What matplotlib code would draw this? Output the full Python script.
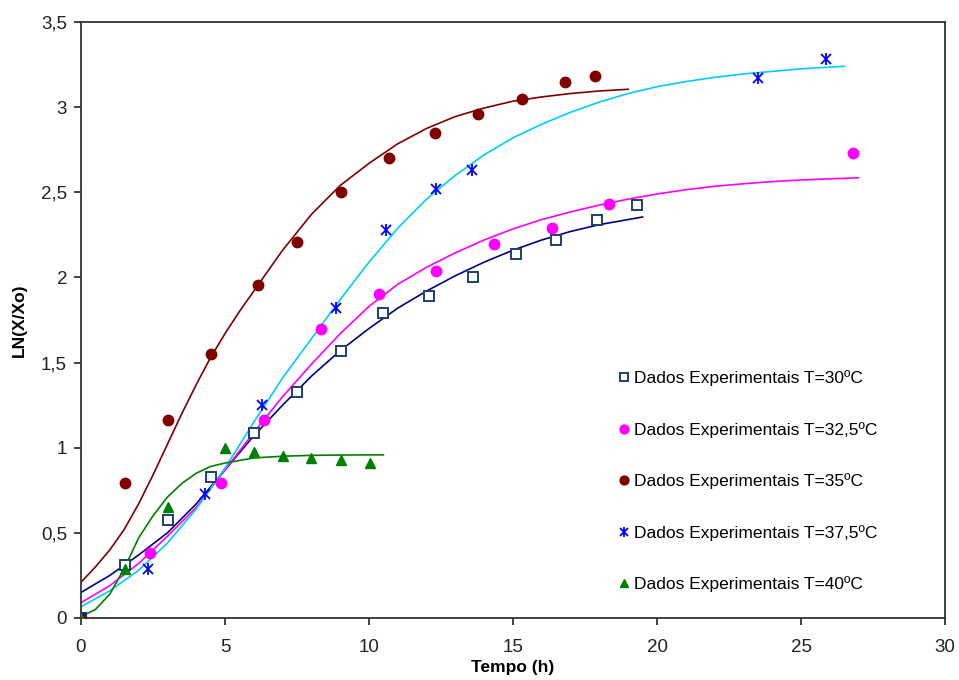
import matplotlib
matplotlib.use("Agg")
import matplotlib.pyplot as plt
from matplotlib.legend_handler import HandlerTuple

plt.rcParams['font.family'] = ['Liberation Sans', 'DejaVu Sans']

# ---- experimental data ----
t30 = [0, 1.53, 3.02, 4.51, 6.0, 7.5, 9.03, 10.5, 12.08, 13.6, 15.1, 16.5, 17.9, 19.3]
y30 = [0, 0.31, 0.575, 0.83, 1.085, 1.33, 1.57, 1.79, 1.89, 2.0, 2.14, 2.22, 2.34, 2.425]

t325 = [0, 2.4, 4.86, 6.35, 8.33, 10.35, 12.33, 14.34, 16.35, 18.33, 26.8]
y325 = [0, 0.38, 0.79, 1.16, 1.70, 1.90, 2.04, 2.195, 2.29, 2.43, 2.73]

t35 = [0, 1.53, 3.02, 4.51, 6.15, 7.5, 9.03, 10.7, 12.3, 13.8, 15.3, 16.8, 17.85]
y35 = [0, 0.79, 1.163, 1.55, 1.955, 2.21, 2.50, 2.70, 2.85, 2.96, 3.05, 3.15, 3.18]

t375 = [0, 2.33, 4.3, 6.28, 8.85, 10.6, 12.33, 13.58, 23.5, 25.87]
y375 = [0, 0.29, 0.73, 1.25, 1.82, 2.28, 2.52, 2.63, 3.17, 3.28]

t40 = [0, 1.53, 3.02, 5.0, 6.0, 7.0, 8.0, 9.03, 10.03]
y40 = [0, 0.29, 0.65, 1.0, 0.975, 0.95, 0.94, 0.93, 0.91]

# ---- fitted curves ----
ct30 = [0, 1, 2, 3, 4, 5, 6, 7, 8, 9, 10, 11, 12, 13, 14, 15, 16, 17, 18, 19, 19.5]
cy30 = [0.15, 0.25, 0.37, 0.50, 0.67, 0.87, 1.07, 1.25, 1.42, 1.57, 1.70, 1.82, 1.92, 2.01, 2.09, 2.16, 2.22, 2.27, 2.31, 2.34, 2.355]

ct325 = [0, 1, 2, 3, 4, 5, 6, 7, 8, 9, 10, 11, 12, 13, 14, 15, 16, 17, 18, 19, 20, 21, 22, 23, 24, 25, 26, 27]
cy325 = [0.09, 0.19, 0.32, 0.48, 0.65, 0.87, 1.09, 1.30, 1.49, 1.67, 1.83, 1.96, 2.06, 2.145, 2.22, 2.285, 2.34, 2.385, 2.425, 2.46, 2.49, 2.515, 2.535, 2.55, 2.563, 2.572, 2.579, 2.585]

ct35 = [0, 0.5, 1, 1.5, 2, 2.5, 3, 3.5, 4, 4.5, 5, 5.5, 6, 7, 8, 9, 10, 11, 12, 13, 14, 15, 16, 17, 18, 19]
cy35 = [0.21, 0.30, 0.40, 0.52, 0.67, 0.84, 1.02, 1.20, 1.37, 1.53, 1.67, 1.80, 1.92, 2.16, 2.37, 2.54, 2.67, 2.785, 2.875, 2.945, 2.995, 3.035, 3.06, 3.08, 3.095, 3.105]

ct375 = [0, 1, 2, 3, 4, 5, 6, 7, 8, 9, 10, 11, 12, 13, 14, 15, 16, 17, 18, 19, 20, 21, 22, 23, 24, 25, 26.5]
cy375 = [0.066, 0.16, 0.28, 0.44, 0.64, 0.88, 1.15, 1.41, 1.64, 1.87, 2.09, 2.29, 2.46, 2.60, 2.72, 2.82, 2.90, 2.97, 3.03, 3.08, 3.12, 3.15, 3.175, 3.195, 3.21, 3.225, 3.24]

ct40 = [0, 0.5, 1, 1.5, 2, 2.5, 3, 3.5, 4, 4.5, 5, 6, 7, 8, 9, 10, 10.5]
cy40 = [0.01, 0.05, 0.14, 0.29, 0.47, 0.60, 0.71, 0.79, 0.85, 0.89, 0.91, 0.94, 0.95, 0.955, 0.957, 0.958, 0.958]

labels = ["Dados Experimentais T=30ºC", "Dados Experimentais T=32,5ºC",
          "Dados Experimentais T=35ºC", "Dados Experimentais T=37,5ºC",
          "Dados Experimentais T=40ºC"]

xticks = [0, 5, 10, 15, 20, 25, 30]
xticklabels = ["0", "5", "10", "15", "20", "25", "30"]
yticks = [0, 0.5, 1, 1.5, 2, 2.5, 3, 3.5]
yticklabels = ["0", "0,5", "1", "1,5", "2", "2,5", "3", "3,5"]

fig = plt.figure(figsize=(9.59, 6.80), dpi=100)
ax = fig.add_axes([81/959, 1-618/680, (945-81)/959, (618-22)/680])

lw = 1.2
ax.plot(ct30, cy30, color='#000080', lw=lw, zorder=2)
ax.plot(ct325, cy325, color='#FF00FF', lw=lw, zorder=2)
ax.plot(ct35, cy35, color='#800000', lw=lw, zorder=2)
ax.plot(ct375, cy375, color='#00CCFF', lw=lw, zorder=2)
ax.plot(ct40, cy40, color='#008000', lw=lw, zorder=2)

h30, = ax.plot(t30, y30, ls='none', marker='s', ms=7, mfc='white', mec='#1F3F6B', mew=1.4, zorder=3)
h325, = ax.plot(t325, y325, ls='none', marker='o', ms=7.5, mfc='#FF00FF', mec='#FF00FF', zorder=3)
h35, = ax.plot(t35, y35, ls='none', marker='o', ms=7.5, mfc='#800000', mec='#800000', zorder=3)
h375a, = ax.plot(t375, y375, ls='none', marker='x', ms=6.5, mec='#0000FF', mew=1.3, zorder=3)
h375b, = ax.plot(t375, y375, ls='none', marker='|', ms=8, mec='#0000FF', mew=1.3, zorder=3)
h40, = ax.plot(t40, y40, ls='none', marker='^', ms=7.5, mfc='#008000', mec='#008000', zorder=3)

ax.set_xlim(0, 30)
ax.set_ylim(0, 3.5)
ax.set_xticks(xticks)
ax.set_xticklabels(xticklabels)
ax.set_yticks(yticks)
ax.set_yticklabels(yticklabels)
ax.tick_params(axis='both', direction='out', length=5, width=1.2, labelsize=13.5, colors='#222222')
ax.tick_params(axis='x', pad=10)
ax.tick_params(axis='y', pad=5)
for s in ax.spines.values():
    s.set_color('#333333')
    s.set_linewidth(1.3)

ax.set_xlabel("Tempo (h)", fontsize=12.5, fontweight='bold', labelpad=3)
ax.set_ylabel("LN(X/Xo)", fontsize=12.5, fontweight='bold', labelpad=10)

leg = ax.legend([h30, h325, h35, (h375a, h375b), h40], labels,
                handler_map={tuple: HandlerTuple(ndivide=1, pad=0)},
                loc='center left', bbox_to_anchor=(0.622, 0.229), frameon=False,
                fontsize=12.5, labelspacing=2.05, handlelength=0.6, handletextpad=0.3,
                borderpad=0, borderaxespad=0, markerscale=0.85)

fig.savefig("out.png", dpi=100)
